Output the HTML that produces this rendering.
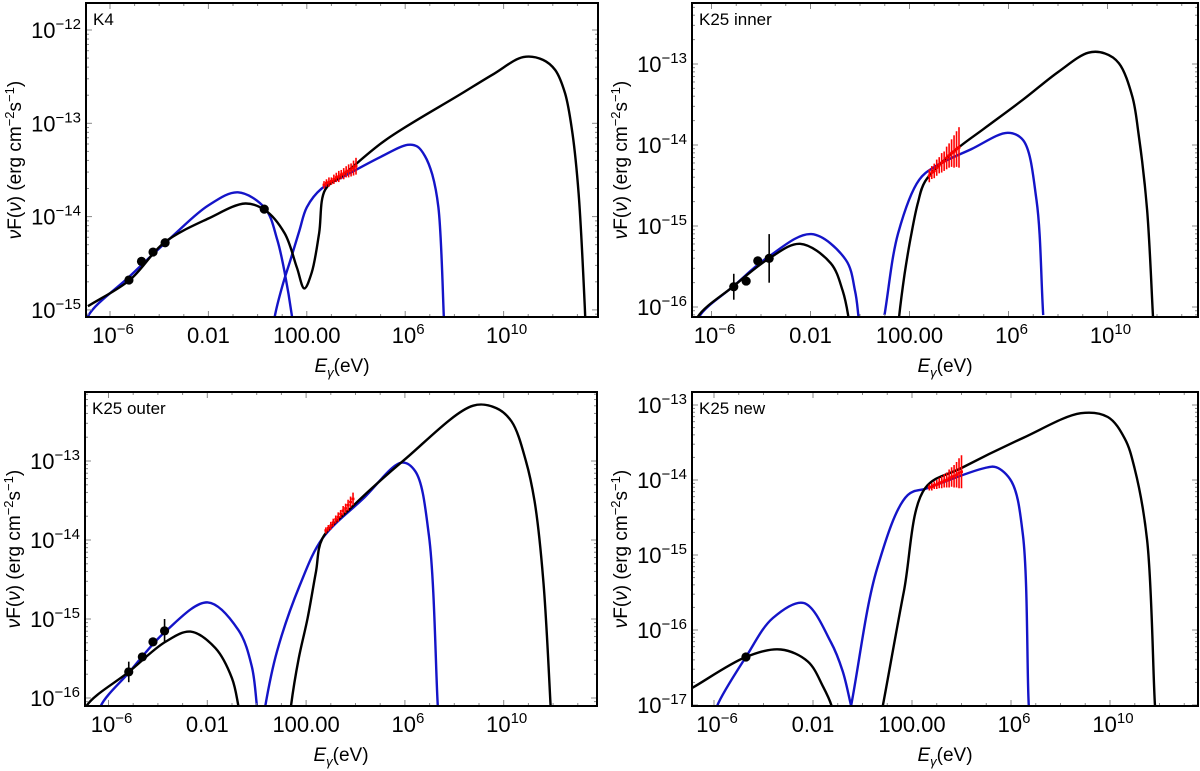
<!DOCTYPE html>
<html><head><meta charset="utf-8"><style>
html,body{margin:0;padding:0;background:#fff;}
svg{display:block;font-family:"Liberation Sans",sans-serif;}
</style></head><body>
<svg id="chart" width="1200" height="771" viewBox="0 0 1200 771" xmlns="http://www.w3.org/2000/svg"></svg>
<script>
// ---- Panel K4 ----
const k4BlackE=[-6.9,-5.2,-3.8,-2,-0.5,0.3,1.1,1.6,1.9,2.2,2.5,2.75,3.5,5.2,8.3,9.6,10.8,11.6,12.1,12.5,12.8,13.05,13.3,13.4];
const k4BlackF=[-14.96,-14.68,-14.28,-14.02,-13.86,-13.93,-14.18,-14.55,-14.77,-14.6,-14.18,-13.71,-13.55,-13.18,-12.68,-12.47,-12.29,-12.32,-12.43,-12.68,-13.11,-13.75,-14.97,-15.6];
const k4BlueLowE=[-7.1,-6.9,-5.2,-3.5,-2,-0.8,0.3,0.8,1.1,1.4,1.5];
const k4BlueLowF=[-15.35,-15.07,-14.64,-14.22,-13.88,-13.74,-13.91,-14.25,-14.6,-15.07,-15.3];
const k4BlueHighE=[0.6,0.7,1.0,1.33,1.7,2.0,2.6,3.5,5,6.1,6.5,6.8,7.1,7.35,7.57,7.62];
const k4BlueHighF=[-15.3,-15.07,-14.75,-14.47,-14.15,-13.9,-13.7,-13.57,-13.36,-13.23,-13.25,-13.35,-13.55,-13.9,-15.07,-15.4];
const k4PtsE=[-5.23,-4.72,-4.25,-3.76,0.27];
const k4PtsF=[-14.68,-14.48,-14.38,-14.28,-13.92];
const k4PtsErr=[0.02,0.02,0.02,0.02,0.02];
const k4XrayE=[2.7,2.8,2.9,3.0,3.1,3.2,3.3,3.4,3.5,3.6,3.7,3.8,3.9,4.0];
const k4XrayF=[-13.66,-13.64,-13.63,-13.62,-13.60,-13.58,-13.57,-13.55,-13.54,-13.52,-13.51,-13.50,-13.48,-13.46];
const k4XrayErr=[0.04,0.04,0.05,0.04,0.05,0.05,0.06,0.05,0.06,0.06,0.07,0.07,0.08,0.09];
const k4YTicks=[-12,-13,-14,-15];
// ---- Panel K25 inner ----
const inBlackLowE=[-6.8,-6.55,-5.14,-3.67,-2.42,-1.18,-0.7,-0.48,-0.4];
const inBlackLowF=[-16.4,-16.12,-15.75,-15.40,-15.22,-15.46,-15.8,-16.1,-16.3];
const inBlackHighE=[1.5,1.58,1.8,2.08,2.35,2.63,3.79,5,6.59,8,9.23,9.9,10.46,11.0,11.25,11.6,11.84,11.9];
const inBlackHighF=[-16.4,-16.12,-15.6,-15.09,-14.7,-14.45,-14.08,-13.8,-13.44,-13.1,-12.86,-12.87,-12.99,-13.4,-13.85,-14.8,-16.12,-16.4];
const inBlueLowE=[-6.7,-6.5,-5.1,-3.7,-1.96,-0.57,-0.2,-0.06,0.0];
const inBlueLowF=[-16.4,-16.12,-15.74,-15.38,-15.10,-15.42,-15.8,-16.12,-16.3];
const inBlueHighE=[0.99,1.54,2.39,3.01,4.5,5.97,6.59,7.13,7.4];
const inBlueHighF=[-16.1,-15.09,-14.43,-14.27,-14.05,-13.85,-13.94,-14.68,-16.1];
const inPtsE=[-5.1,-4.6,-4.13,-3.67];
const inPtsF=[-15.75,-15.68,-15.43,-15.40];
const inPtsErr=[0.16,0.02,0.03,0.3];
const inXrayE=[2.8,2.9,3.0,3.1,3.2,3.3,3.4,3.5,3.6,3.7,3.8,3.9,4.0];
const inXrayF=[-14.38,-14.34,-14.32,-14.28,-14.25,-14.22,-14.2,-14.16,-14.13,-14.1,-14.08,-14.05,-14.03];
const inXrayErr=[0.08,0.08,0.09,0.1,0.1,0.12,0.12,0.14,0.15,0.17,0.2,0.22,0.25];
const inYTicks=[-13,-14,-15,-16];
// ---- Panel K25 outer ----
const outBlackLowE=[-7.1,-6.89,-5.18,-3.70,-2.68,-1.67,-1.0,-0.74,-0.6];
const outBlackLowF=[-16.35,-16.1,-15.67,-15.29,-15.16,-15.37,-15.75,-16.1,-16.35];
const outBlackHighE=[1.3,1.39,1.7,2.06,2.4,2.66,3.93,5.96,8.76,9.7,10.32,10.9,11.25,11.6,11.9,11.95];
const outBlackHighF=[-16.4,-16.1,-15.5,-14.99,-14.4,-13.98,-13.56,-12.99,-12.30,-12.33,-12.50,-13.0,-13.51,-14.5,-16.1,-16.4];
const outBlueLowE=[-6.45,-6.31,-5.18,-3.70,-1.98,-0.74,-0.2,0.01,0.1];
const outBlueLowF=[-16.35,-16.1,-15.68,-15.16,-14.79,-15.14,-15.6,-16.1,-16.35];
const outBlueHighE=[0.25,0.35,0.82,1.75,2.66,4.3,5.88,6.42,6.97,7.33,7.4];
const outBlueHighF=[-16.35,-16.1,-15.41,-14.57,-13.98,-13.48,-13.02,-13.13,-13.94,-16.1,-16.4];
const outPtsE=[-5.18,-4.63,-4.2,-3.73];
const outPtsF=[-15.67,-15.48,-15.29,-15.15];
const outPtsErr=[0.13,0.03,0.04,0.15];
const outXrayE=[2.8,2.9,3.0,3.1,3.2,3.3,3.4,3.5,3.6,3.7,3.8,3.9];
const outXrayF=[-13.88,-13.85,-13.82,-13.78,-13.74,-13.71,-13.67,-13.63,-13.6,-13.56,-13.52,-13.48];
const outXrayErr=[0.04,0.04,0.05,0.05,0.05,0.06,0.05,0.06,0.06,0.07,0.07,0.08];
const outYTicks=[-13,-14,-15,-16];
// ---- Panel K25 new ----
const newBlackLowE=[-7.1,-6.88,-4.71,-3.30,-2.21,-1.6,-1.25,-1.15];
const newBlackLowF=[-16.8,-16.77,-16.36,-16.26,-16.42,-16.75,-17.01,-17.2];
const newBlackHighE=[0.7,0.82,1.67,2.53,4.0,6.48,8.82,9.91,10.6,10.99,11.5,11.82,11.9];
const newBlackHighF=[-17.2,-17.01,-15.49,-14.11,-13.84,-13.44,-13.11,-13.16,-13.45,-13.84,-14.8,-17.01,-17.3];
const newBlueLowE=[-6.0,-5.87,-4.71,-3.62,-2.37,-1.28,-0.8,-0.46];
const newBlueLowF=[-17.2,-17.01,-16.36,-15.84,-15.64,-16.16,-16.55,-17.01];
const newBlueHighE=[-0.46,0.59,1.83,2.61,4.94,5.4,6.02,6.48,6.72,6.8];
const newBlueHighF=[-17.01,-15.18,-14.2,-14.11,-13.84,-13.83,-14.02,-14.73,-17.01,-17.3];
const newPtsE=[-4.71];
const newPtsF=[-16.36];
const newPtsErr=[0.06];
const newXrayE=[2.7,2.8,2.9,3.0,3.1,3.2,3.3,3.4,3.5,3.6,3.7,3.8,3.9,4.0];
const newXrayF=[-14.1,-14.09,-14.07,-14.06,-14.04,-14.03,-14.01,-14.0,-13.98,-13.96,-13.95,-13.93,-13.91,-13.89];
const newXrayErr=[0.04,0.05,0.05,0.06,0.07,0.08,0.09,0.1,0.12,0.13,0.15,0.17,0.2,0.22];
const newYTicks=[-13,-14,-15,-16,-17];
// shared x ticks
const xTickExp=[-6,-2,2,6,10];
const xTickText=[["10","−6"],["0.01",""],["100.00",""],["10","6"],["10","10"]];

const NS="http://www.w3.org/2000/svg";
const svg=document.getElementById('chart');
function mk(tag,attrs,parent){const e=document.createElementNS(NS,tag);for(const k in attrs)e.setAttribute(k,attrs[k]);(parent||svg).appendChild(e);return e;}

const panels=[
 {id:'k4',label:'K4',l:86,r:598,t:3,b:317,x6:110,xk:24.6,fref:-12,yref:30,yk:93.3,yt:k4YTicks,
  black:[[k4BlackE,k4BlackF]],blue:[[k4BlueLowE,k4BlueLowF],[k4BlueHighE,k4BlueHighF]],
  pts:[k4PtsE,k4PtsF,k4PtsErr],xr:[k4XrayE,k4XrayF,k4XrayErr]},
 {id:'k25-inner',label:'K25 inner',l:692,r:1198,t:3,b:317,x6:711.5,xk:24.75,fref:-13,yref:64,yk:81,yt:inYTicks,
  black:[[inBlackLowE,inBlackLowF],[inBlackHighE,inBlackHighF]],blue:[[inBlueLowE,inBlueLowF],[inBlueHighE,inBlueHighF]],
  pts:[inPtsE,inPtsF,inPtsErr],xr:[inXrayE,inXrayF,inXrayErr]},
 {id:'k25-outer',label:'K25 outer',l:85,r:597,t:392,b:706,x6:108.5,xk:24.7,fref:-13,yref:461,yk:79,yt:outYTicks,
  black:[[outBlackLowE,outBlackLowF],[outBlackHighE,outBlackHighF]],blue:[[outBlueLowE,outBlueLowF],[outBlueHighE,outBlueHighF]],
  pts:[outPtsE,outPtsF,outPtsErr],xr:[outXrayE,outXrayF,outXrayErr]},
 {id:'k25-new',label:'K25 new',l:692,r:1198,t:392,b:706,x6:714,xk:24.75,fref:-13,yref:405,yk:75,yt:newYTicks,
  black:[[newBlackLowE,newBlackLowF],[newBlackHighE,newBlackHighF]],blue:[[newBlueLowE,newBlueLowF],[newBlueHighE,newBlueHighF]],
  pts:[newPtsE,newPtsF,newPtsErr],xr:[newXrayE,newXrayF,newXrayErr]}
];

// centripetal Catmull-Rom path through pixel points
function smooth(p){
  const n=p.length;
  const dist=(a,b)=>Math.pow(Math.hypot(b[0]-a[0],b[1]-a[1]),0.5);
  let d='M'+p[0][0].toFixed(1)+','+p[0][1].toFixed(1);
  for(let i=0;i<n-1;i++){
    const p0=i>0?p[i-1]:null,p1=p[i],p2=p[i+1],p3=i+2<n?p[i+2]:null;
    const d2=dist(p1,p2);
    let b1,b2;
    if(p0){
      const d1=dist(p0,p1);
      const A=d1*d1,B=d2*d2,den=3*d1*(d1+d2);
      b1=[0,1].map(k=>(A*p2[k]-B*p0[k]+(2*A+3*d1*d2+B)*p1[k])/den);
    } else b1=[p1[0]+(p2[0]-p1[0])/3,p1[1]+(p2[1]-p1[1])/3];
    if(p3){
      const d3=dist(p2,p3);
      const A=d3*d3,B=d2*d2,den=3*d3*(d3+d2);
      b2=[0,1].map(k=>(A*p1[k]-B*p3[k]+(2*A+3*d3*d2+B)*p2[k])/den);
    } else b2=[p2[0]-(p2[0]-p1[0])/3,p2[1]-(p2[1]-p1[1])/3];
    d+=' C'+b1[0].toFixed(1)+','+b1[1].toFixed(1)+' '+b2[0].toFixed(1)+','+b2[1].toFixed(1)+' '+p2[0].toFixed(1)+','+p2[1].toFixed(1);
  }
  return d;
}

panels.forEach((P,pi)=>{
  const X=e=>P.x6+(e+6)*P.xk;
  const Y=f=>P.yref+(P.fref-f)*P.yk;
  const g=mk('g',{});
  
  
  const cp=mk('clipPath',{id:'clip'+pi},g);
  mk('rect',{x:P.l,y:P.t,width:P.r-P.l,height:P.b-P.t},cp);
  const plot=mk('g',{'clip-path':'url(#clip'+pi+')'},g);
  
  
  P.blue.forEach(([E,F])=>{
    const p=mk('path',{d:smooth(E.map((e,i)=>[X(e),Y(F[i])])),fill:'none',stroke:'#1414c8','stroke-width':2.4,'stroke-linejoin':'round'},plot);
    
    
  });
  P.black.forEach(([E,F])=>{
    const p=mk('path',{d:smooth(E.map((e,i)=>[X(e),Y(F[i])])),fill:'none',stroke:'#000','stroke-width':2.4,'stroke-linejoin':'round'},plot);
    
    
  });
  const [xe,xf,xerr]=P.xr;
  xe.forEach((e,i)=>{
    const x=X(e),y=Y(xf[i]);
    const l1=mk('line',{x1:x,x2:x,y1:Y(xf[i]+xerr[i]),y2:Y(xf[i]-xerr[i]),stroke:'#f00','stroke-width':1.6},plot);
    
    
    const l2=mk('line',{x1:X(e-0.06),x2:X(e+0.06),y1:y,y2:y,stroke:'#f00','stroke-width':2.5},plot);
    
    
  });
  const [pe,pf,perr]=P.pts;
  pe.forEach((e,i)=>{
    const x=X(e);
    const l=mk('line',{x1:x,x2:x,y1:Y(pf[i]+perr[i]),y2:Y(pf[i]-perr[i]),stroke:'#000','stroke-width':1.6},plot);
    
    
    const c=mk('circle',{cx:x,cy:Y(pf[i]),r:4.6,fill:'#000'},plot);
    
    
  });
  const tk=mk('g',{stroke:'#888','stroke-width':1},g);
  
  
  const fTop=P.fref+(P.yref-P.t)/P.yk, fBot=P.fref-(P.b-P.yref)/P.yk;
  for(let d=Math.floor(fBot);d<=Math.ceil(fTop);d++){
    for(let k=1;k<10;k++){
      const y=Y(d+Math.log10(k));
      if(y<P.t||y>P.b)continue;
      const len=k===1?6:3;
      mk('line',{x1:P.l,x2:P.l+len,y1:y,y2:y},tk);
      mk('line',{x1:P.r,x2:P.r-len,y1:y,y2:y},tk);
    }
  }
  for(let e=-7;e<=14;e++){
    const x=X(e); if(x<P.l||x>P.r)continue;
    const len=(xTickExp.indexOf(e)>=0)?6:3;
    mk('line',{x1:x,x2:x,y1:P.b,y2:P.b-len},tk);
    mk('line',{x1:x,x2:x,y1:P.t,y2:P.t+len},tk);
  }
  const fr=mk('rect',{x:P.l,y:P.t,width:P.r-P.l,height:P.b-P.t,fill:'none',stroke:'#000','stroke-width':2},g);
  
  
  P.yt.forEach(v=>{
    const t=mk('text',{x:P.l-5,y:Y(v)+8,'text-anchor':'end','font-size':22},g);
    
    
    t.appendChild(document.createTextNode('10'));
    const s=mk('tspan',{dy:-9,'font-size':15},t); s.textContent='−'+Math.abs(v);
  });
  xTickExp.forEach((e,i)=>{
    const t=mk('text',{x:X(e)+(xTickText[i][1]?3:0),y:P.b+26,'text-anchor':'middle','font-size':22},g);
    
    
    t.appendChild(document.createTextNode(xTickText[i][0]));
    if(xTickText[i][1]){const s=mk('tspan',{dy:-9,'font-size':15},t); s.textContent=xTickText[i][1];}
  });
  const xt=mk('text',{x:(P.l+P.r)/2,y:P.b+55,'text-anchor':'middle','font-size':19},g);
  
  
  xt.innerHTML='<tspan font-style="italic">E</tspan><tspan font-style="italic" font-size="13" dy="5">γ</tspan><tspan dy="-5">(eV)</tspan>';
  const cy=(P.t+P.b)/2;
  const yt=mk('text',{x:0,y:0,'text-anchor':'middle','font-size':19,transform:'translate('+(P.l-65)+','+cy+') rotate(-90)'},g);
  
  
  yt.innerHTML='<tspan font-style="italic">ν</tspan>F(<tspan font-style="italic">ν</tspan>) (erg cm<tspan font-size="13" dy="-7">−2</tspan><tspan dy="7">s</tspan><tspan font-size="13" dy="-7">−1</tspan><tspan dy="7">)</tspan>';
  const lb=mk('text',{x:P.l+7,y:P.t+22,'font-size':17},g);
  
  
  lb.textContent=P.label;
});
</script>
</body></html>
